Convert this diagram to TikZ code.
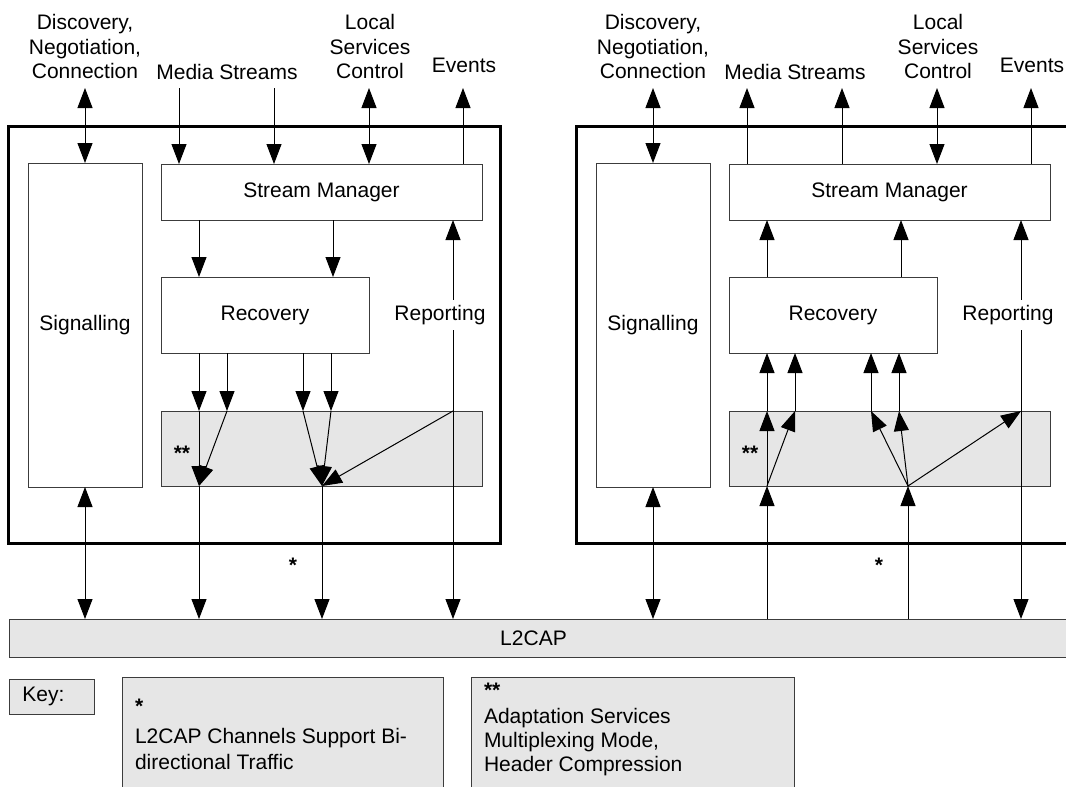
\documentclass[tikz,border=0pt]{standalone}
\usepackage{fontspec}
\setmainfont{Liberation Sans}
\usetikzlibrary{arrows.meta}
\definecolor{panel}{HTML}{E6E6E6}
\definecolor{edge}{HTML}{3C3C3C}
\begin{document}
\begin{tikzpicture}[x=1pt, y=-1pt,
  font=\fontsize{21}{24.5}\selectfont,
  every node/.style={inner sep=0pt, outer sep=0pt},
  >={Triangle[length=20pt, width=15pt]},
  frame/.style={draw=black, line width=3pt},
  blk/.style={draw=edge, line width=1pt, fill=white},
  shade/.style={draw=edge, line width=1pt, fill=panel},
  arr/.style={line width=1pt, ->},
  dbl/.style={line width=1pt, <->},
  star/.style={font=\fontsize{21}{24.5}\selectfont\bfseries},
  lbl/.style={align=center},
  keytext/.style={anchor=west},
]
\useasboundingbox (0,0) rectangle (1066,787);
\clip (0,0) rectangle (1066,787);

% ---------- shared lower layer ----------
\node[shade, minimum width=1061pt, minimum height=38pt,
      label={[xshift=-6pt]center:L2CAP}] (l2cap) at (539.5,638) {};

% ---------- left unit ----------
\node[frame, minimum width=492pt, minimum height=417pt] (outL) at (254,334.5) {};
\node[blk, minimum width=114pt, minimum height=324pt] (sigL) at (85,325) {Signalling};
\node[blk, minimum width=321pt, minimum height=56pt] (smL) at (321.5,192) {Stream Manager};
\node[blk, minimum width=208pt, minimum height=76pt] (recL) at (265,315) {Recovery};
\node[shade, minimum width=321pt, minimum height=75pt] (adL) at (321.5,448.5) {};
\node[star] (ssL) at (182,453) {**};
\node[star] (sL) at (293,565) {*};

\node[lbl] (discL) at (85,46.5) {Discovery,\\Negotiation,\\Connection};
\node[lbl] (mediaL) at (227,72) {Media Streams};
\node[lbl] (lscL) at (370,46.5) {Local\\Services\\Control};
\node[lbl] (evL) at (464,65) {Events};

\coordinate (tL1) at (85,88);
\coordinate (tL2) at (179,88);
\coordinate (tL3) at (274,88);
\coordinate (tL4) at (369,88);
\coordinate (tL5) at (463,88);
\coordinate (vL1) at (199,0);
\coordinate (vL2) at (333,0);
\coordinate (rL1) at (199,0);
\coordinate (rL2) at (227,0);
\coordinate (rL3) at (303,0);
\coordinate (rL4) at (331,0);
\coordinate (rL5) at (453,0);
\coordinate (mxL1) at (199,486);
\coordinate (mxL2) at (322,486);

\draw[dbl] (tL1) -- (sigL.north);
\draw[arr] (tL2) -- (tL2 |- smL.north);
\draw[arr] (tL3) -- (tL3 |- smL.north);
\draw[dbl] (tL4) -- (tL4 |- smL.north);
\draw[arr] (tL5 |- smL.north) -- (tL5);

\draw[arr] (vL1 |- smL.south) -- (vL1 |- recL.north);
\draw[arr] (vL2 |- smL.south) -- (vL2 |- recL.north);

\foreach \c in {rL1,rL2,rL3,rL4}
  \draw[arr] (\c |- recL.south) -- (\c |- adL.north);

\draw[arr] (rL1 |- adL.north) -- (mxL1);
\draw[arr] (rL2 |- adL.north) -- (mxL1);
\draw[arr] (rL3 |- adL.north) -- (mxL2);
\draw[arr] (rL4 |- adL.north) -- (mxL2);
\draw[arr] (rL5 |- adL.north) -- (mxL2);

\draw[arr] (mxL1) -- (mxL1 |- l2cap.north);
\draw[arr] (mxL2) -- (mxL2 |- l2cap.north);
\draw[dbl] (sigL.south) -- (sigL.south |- l2cap.north);
\draw[dbl] (rL5 |- l2cap.north) -- (rL5 |- smL.south);
\node[fill=white, inner ysep=5pt, inner xsep=1pt] (repL) at (440,315) {Reporting};

% ---------- right unit ----------
\node[frame, minimum width=492pt, minimum height=417pt] (outR) at (822,334.5) {};
\node[blk, minimum width=114pt, minimum height=324pt] (sigR) at (653,325) {Signalling};
\node[blk, minimum width=321pt, minimum height=56pt] (smR) at (889.5,192) {Stream Manager};
\node[blk, minimum width=208pt, minimum height=76pt] (recR) at (833,315) {Recovery};
\node[shade, minimum width=321pt, minimum height=75pt] (adR) at (889.5,448.5) {};
\node[star] (ssR) at (750,453) {**};
\node[star] (sR) at (879,565) {*};

\node[lbl] (discR) at (653,46.5) {Discovery,\\Negotiation,\\Connection};
\node[lbl] (mediaR) at (795,72) {Media Streams};
\node[lbl] (lscR) at (938,46.5) {Local\\Services\\Control};
\node[lbl] (evR) at (1032,65) {Events};

\coordinate (tR1) at (653,88);
\coordinate (tR2) at (747,88);
\coordinate (tR3) at (842,88);
\coordinate (tR4) at (937,88);
\coordinate (tR5) at (1031,88);
\coordinate (vR1) at (767,0);
\coordinate (vR2) at (901,0);
\coordinate (rR1) at (767,0);
\coordinate (rR2) at (795,0);
\coordinate (rR3) at (871,0);
\coordinate (rR4) at (899,0);
\coordinate (rR5) at (1021,0);
\coordinate (mxR1) at (767,486);
\coordinate (mxR2) at (908,486);

\draw[dbl] (tR1) -- (sigR.north);
\draw[arr] (tR2 |- smR.north) -- (tR2);
\draw[arr] (tR3 |- smR.north) -- (tR3);
\draw[dbl] (tR4) -- (tR4 |- smR.north);
\draw[arr] (tR5 |- smR.north) -- (tR5);

\draw[arr] (vR1 |- recR.north) -- (vR1 |- smR.south);
\draw[arr] (vR2 |- recR.north) -- (vR2 |- smR.south);

\foreach \c in {rR1,rR2,rR3,rR4}
  \draw[arr] (\c |- adR.north) -- (\c |- recR.south);

\draw[arr] (mxR1) -- (rR1 |- adR.north);
\draw[arr] (mxR1) -- (rR2 |- adR.north);
\draw[arr] (mxR2) -- (rR3 |- adR.north);
\draw[arr] (mxR2) -- (rR4 |- adR.north);
\draw[arr] (mxR2) -- (rR5 |- adR.north);

\draw[arr] (mxR1 |- l2cap.north) -- (mxR1);
\draw[arr] (mxR2 |- l2cap.north) -- (mxR2);
\draw[dbl] (sigR.south) -- (sigR.south |- l2cap.north);
\draw[dbl] (rR5 |- l2cap.north) -- (rR5 |- smR.south);
\node[fill=white, inner ysep=5pt, inner xsep=1pt] (repR) at (1008,315) {Reporting};

% ---------- key ----------
\node[shade, minimum width=85pt, minimum height=35pt,
      label={[xshift=-8pt]center:Key:}] (key) at (51.5,696.5) {};
\node[shade, minimum width=321pt, minimum height=130pt] (keyA) at (282.5,742) {};
\node[shade, minimum width=323pt, minimum height=130pt] (keyB) at (632.5,742) {};

\node[star, keytext] (kaS) at (135,706) {*};
\node[keytext] (ka1) at (135,738) {L2CAP Channels Support Bi-};
\node[keytext] (ka2) at (135,762) {directional Traffic};

\node[star, keytext] (kbS) at (484,690) {**};
\node[keytext] (kb1) at (484,718) {Adaptation Services};
\node[keytext] (kb2) at (484,742) {Multiplexing Mode,};
\node[keytext] (kb3) at (484,766) {Header Compression};
\end{tikzpicture}
\end{document}
